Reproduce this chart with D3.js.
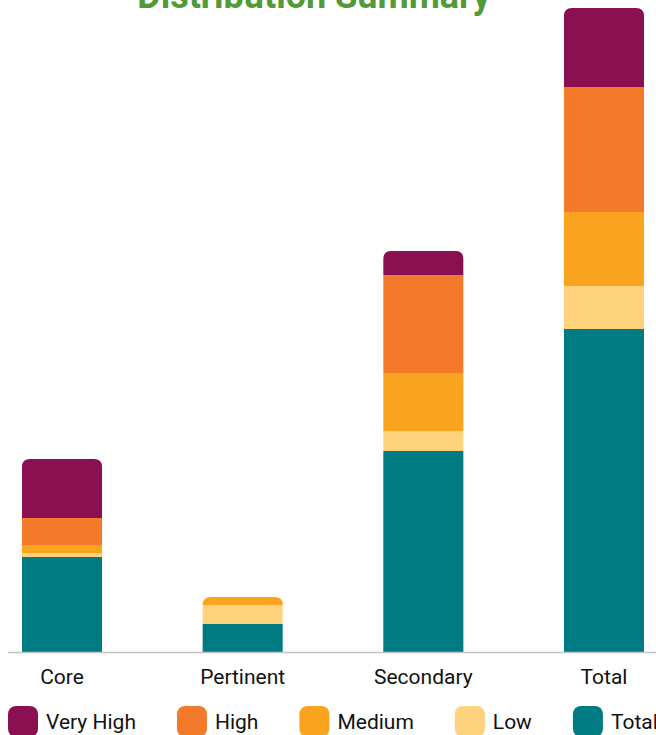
<!DOCTYPE html>
<html>
<head>
<meta charset="utf-8">
<script src="https://cdn.jsdelivr.net/npm/d3@7"></script>
<style>
  html, body { margin: 0; padding: 0; background: #fff; overflow: hidden; }
  text { font-family: Roboto, 'Noto Sans', sans-serif; }
</style>
</head>
<body>
<div id="chart"></div>
<script>
// categories and series (stack order bottom -> top)
const categories = ['Core', 'Pertinent', 'Secondary', 'Total']
const seriesNames = ['Total', 'Low', 'Medium', 'High', 'Very High']

const totalValues = [95, 28, 201, 323]
const lowValues = [4, 19, 20, 43]
const mediumValues = [8, 8, 58, 74]
const highValues = [27, 0, 98, 125]
const veryHighValues = [59, 0, 24, 79]

const legendOrder = ['Very High', 'High', 'Medium', 'Low', 'Total']

const colors = {
  'Very High': '#8a1052',
  'High': '#f47a2b',
  'Medium': '#f9a31f',
  'Low': '#fed27c',
  'Total': '#007a83'
}

const width = 656
const height = 735

const svg = d3
  .select('#chart')
  .append('svg')
  .attr('width', width)
  .attr('height', height)

// build rows for d3.stack
const rows = categories.map((c, i) => ({
  category: c,
  'Total': totalValues[i],
  'Low': lowValues[i],
  'Medium': mediumValues[i],
  'High': highValues[i],
  'Very High': veryHighValues[i]
}))

const stacked = d3.stack().keys(seriesNames)(rows)
const maxSum = d3.max(rows, d => d3.sum(seriesNames, k => d[k]))

const xPositionScale = d3
  .scaleBand()
  .domain(categories)
  .range([22, 644])
  .paddingInner(0.557)
  .paddingOuter(0)

const yPositionScale = d3
  .scaleLinear()
  .domain([0, maxSum])
  .range([652, 8])

// title (sits partly above the window)
svg
  .append('text')
  .attr('x', 314)
  .attr('y', 7.5)
  .attr('text-anchor', 'middle')
  .attr('font-size', 36)
  .attr('font-weight', 700)
  .attr('fill', '#529a37')
  .text('Distribution Summary')

// which series is on top of each bar
const topKey = {}
rows.forEach(d => {
  const nonZero = seriesNames.filter(k => d[k] > 0)
  topKey[d.category] = nonZero[nonZero.length - 1]
})

function roundedTop(x, y, w, h, r) {
  r = Math.min(r, h, w / 2)
  return 'M' + x + ',' + (y + h) +
    'V' + (y + r) +
    'Q' + x + ',' + y + ' ' + (x + r) + ',' + y +
    'H' + (x + w - r) +
    'Q' + (x + w) + ',' + y + ' ' + (x + w) + ',' + (y + r) +
    'V' + (y + h) + 'Z'
}

const layers = svg
  .selectAll('.layer')
  .data(stacked)
  .enter()
  .append('g')
  .attr('class', 'layer')
  .attr('fill', d => colors[d.key])

layers
  .selectAll('path')
  .data(d => d.map(p => ({ key: d.key, p: p })))
  .enter()
  .filter(d => d.p[1] - d.p[0] > 0)
  .append('path')
  .attr('d', d => {
    const x = xPositionScale(d.p.data.category)
    const y = yPositionScale(d.p[1])
    const h = yPositionScale(d.p[0]) - yPositionScale(d.p[1])
    const r = topKey[d.p.data.category] === d.key ? 8 : 0
    return roundedTop(x, y, xPositionScale.bandwidth(), h, r)
  })

// baseline
svg
  .append('line')
  .attr('x1', 8)
  .attr('x2', width)
  .attr('y1', 652.5)
  .attr('y2', 652.5)
  .attr('stroke', '#c4c4c4')
  .attr('stroke-width', 1.5)

// category labels
svg
  .selectAll('.cat-label')
  .data(categories)
  .enter()
  .append('text')
  .attr('class', 'cat-label')
  .attr('x', d => xPositionScale(d) + xPositionScale.bandwidth() / 2)
  .attr('y', 684)
  .attr('text-anchor', 'middle')
  .attr('font-size', 21)
  .attr('fill', '#111')
  .text(d => d)

// legend, laid out left to right
const legend = svg.append('g').attr('class', 'legend')
let lx = 8
legendOrder.forEach(name => {
  const item = legend.append('g').attr('transform', 'translate(' + lx + ',0)')
  item
    .append('rect')
    .attr('x', 0)
    .attr('y', 706)
    .attr('width', 30)
    .attr('height', 31)
    .attr('rx', 8)
    .attr('fill', colors[name])
  const t = item
    .append('text')
    .attr('x', 38)
    .attr('y', 729)
    .attr('font-size', 21)
    .attr('fill', '#111')
    .text(name)
  lx += 38 + t.node().getComputedTextLength() + 41
})
</script>
</body>
</html>
